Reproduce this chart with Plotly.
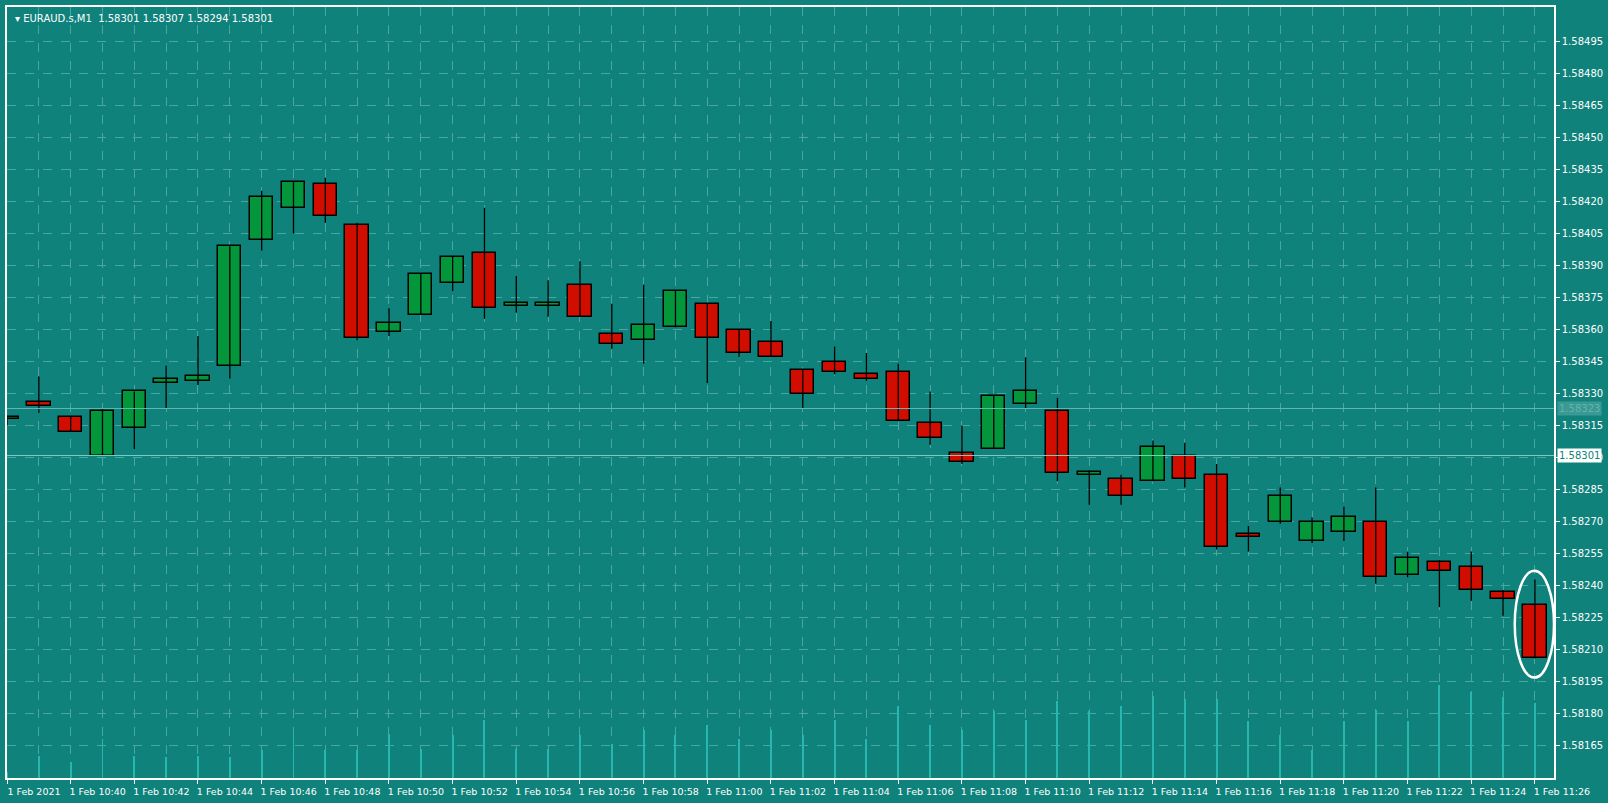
import pandas as pd
import plotly.graph_objects as go

# EURAUD.s M1 candles, 1 Feb 2021 10:38 .. 11:26
times = pd.date_range("2021-02-01 10:38", periods=49, freq="min")

opens = [1.58318, 1.58326, 1.58319, 1.58301, 1.58314, 1.58335, 1.58336, 1.58343, 1.58402, 1.58417,
         1.58428, 1.58409, 1.58359, 1.58367, 1.58382, 1.58396, 1.58371, 1.58371, 1.58381, 1.58358,
         1.58355, 1.58361, 1.58372, 1.58360, 1.58354, 1.58341, 1.58345, 1.58339, 1.58340, 1.58316,
         1.58302, 1.58304, 1.58325, 1.58322, 1.58292, 1.58290, 1.58289, 1.58301, 1.58292, 1.58264,
         1.58270, 1.58261, 1.58265, 1.58270, 1.58245, 1.58251, 1.58249, 1.58237, 1.58231]
highs = [1.58318, 1.58338, 1.58319, 1.58323, 1.58331, 1.58343, 1.58357, 1.58399, 1.58425, 1.58429,
         1.58431, 1.58410, 1.58370, 1.58386, 1.58394, 1.58417, 1.58385, 1.58383, 1.58392, 1.58372,
         1.58381, 1.58378, 1.58372, 1.58360, 1.58364, 1.58341, 1.58352, 1.58349, 1.58344, 1.58331,
         1.58315, 1.58329, 1.58347, 1.58328, 1.58294, 1.58292, 1.58308, 1.58307, 1.58297, 1.58268,
         1.58286, 1.58272, 1.58277, 1.58286, 1.58256, 1.58252, 1.58256, 1.58238, 1.58243]
lows = [1.58315, 1.58321, 1.58312, 1.58301, 1.58304, 1.58323, 1.58334, 1.58337, 1.58397, 1.58405,
        1.58410, 1.58355, 1.58357, 1.58367, 1.58378, 1.58365, 1.58368, 1.58366, 1.58366, 1.58351,
        1.58344, 1.58361, 1.58335, 1.58347, 1.58347, 1.58323, 1.58339, 1.58336, 1.58317, 1.58306,
        1.58297, 1.58304, 1.58323, 1.58289, 1.58278, 1.58278, 1.58289, 1.58286, 1.58257, 1.58256,
        1.58269, 1.58260, 1.58261, 1.58241, 1.58244, 1.58230, 1.58233, 1.58226, 1.58206]
closes = [1.58318, 1.58324, 1.58312, 1.58322, 1.58331, 1.58337, 1.58338, 1.58399, 1.58422, 1.58429,
          1.58413, 1.58356, 1.58363, 1.58386, 1.58394, 1.58370, 1.58372, 1.58372, 1.58366, 1.58353,
          1.58362, 1.58378, 1.58356, 1.58349, 1.58347, 1.58330, 1.58340, 1.58337, 1.58317, 1.58309,
          1.58298, 1.58329, 1.58331, 1.58293, 1.58293, 1.58282, 1.58305, 1.58290, 1.58258, 1.58263,
          1.58282, 1.58270, 1.58272, 1.58244, 1.58253, 1.58247, 1.58238, 1.58234, 1.58206]
volumes = [6, 23, 17, 40, 23, 22, 23, 22, 29, 45, 29, 29, 46, 30, 45, 60, 30, 30, 45, 35,
           50, 45, 55, 40, 50, 45, 60, 40, 75, 55, 50, 70, 60, 80, 70, 75, 85, 82, 82, 59,
           45, 29, 59, 71, 59, 97, 89, 84, 78]

y_ticks = [round(1.58165 + 0.00015 * i, 5) for i in range(23)]
bid_price = 1.58301
ask_price = 1.58323
title_text = "EURAUD.s,M1  1.58301 1.58307 1.58294 1.58301"

BG = "#0f827b"
GRID = "#4aa6a0"
GREEN = "#03963a"
RED = "#d10d00"

fig = go.Figure()

# tick volume lines at the bottom
fig.add_trace(go.Bar(x=times, y=volumes, width=1800, marker_color="#27b7ae",
                     marker_line_width=0, yaxis="y2", hoverinfo="skip"))

# wicks
wx, wy = [], []
for t, h, l in zip(times, highs, lows):
    wx += [t, t, None]
    wy += [h, l, None]
fig.add_trace(go.Scatter(x=wx, y=wy, mode="lines", line=dict(color="black", width=1.3),
                         hoverinfo="skip"))

# bodies
for up in (True, False):
    idx = [i for i in range(len(times)) if (closes[i] >= opens[i]) == up]
    fig.add_trace(go.Bar(
        x=[times[i] for i in idx],
        y=[max(abs(closes[i] - opens[i]), 0.000012) for i in idx],
        base=[min(opens[i], closes[i]) for i in idx],
        width=44000,
        marker=dict(color=GREEN if up else RED, line=dict(color="black", width=1.5)),
        hoverinfo="skip"))

# bid / ask lines
fig.add_hline(y=ask_price, line=dict(color="#5fb8b1", width=1))
fig.add_hline(y=bid_price, line=dict(color="#7cc9c2", width=1))

# hand-drawn ring around the last candle
last = times[-1]
fig.add_shape(type="circle", xref="x", yref="y",
              x0=last - pd.Timedelta(seconds=38), x1=last + pd.Timedelta(seconds=36),
              y0=lows[-1] - 0.00009, y1=highs[-1] + 0.00004,
              line=dict(color="white", width=2.5))

x_ticks = list(times[::2])
x_text = ["1 Feb 2021"] + [t.strftime("1 Feb %H:%M") for t in x_ticks[1:]]

fig.update_layout(
    width=1608, height=803,
    margin=dict(l=5, r=43, t=5, b=25),
    paper_bgcolor=BG, plot_bgcolor=BG,
    showlegend=False, barmode="overlay", bargap=0,
    font=dict(family="DejaVu Sans", size=10, color="white"),
    xaxis=dict(range=[times[0], times[-1] + pd.Timedelta(seconds=36)],
               tickvals=x_ticks, ticktext=x_text, ticks="outside", ticklen=4,
               tickcolor="white", ticklabelshift=27, ticklabelstandoff=0,
               showgrid=True, gridcolor=GRID, griddash="dash", gridwidth=1,
               minor=dict(dtick=60000, showgrid=True, gridcolor=GRID, griddash="dash"),
               showline=True, linecolor="white", linewidth=1.5, mirror=True,
               zeroline=False, tickfont=dict(size=9.5)),
    yaxis=dict(range=[1.58150, 1.58511], side="right", tickvals=y_ticks,
               tickformat=".5f", ticks="outside", ticklen=4, tickcolor="white",
               showgrid=True, gridcolor=GRID, griddash="dash",
               showline=True, linecolor="white", linewidth=1.5, mirror=True,
               zeroline=False, tickfont=dict(size=10)),
    yaxis2=dict(range=[0, 800], overlaying="y", visible=False),
)

fig.add_annotation(xref="paper", yref="paper", x=0.004, y=0.995, xanchor="left", yanchor="top",
                   text="▾ " + title_text, showarrow=False, font=dict(size=10, color="white"))
fig.add_annotation(xref="paper", yref="y", x=1.0, y=ask_price, xanchor="left", xshift=3,
                   text=f"{ask_price:.5f}", showarrow=False, bgcolor="#3a9a93",
                   font=dict(size=10, color="#62b3ad"))
fig.add_annotation(xref="paper", yref="y", x=1.0, y=bid_price, xanchor="left", xshift=3,
                   text=f"{bid_price:.5f}", showarrow=False, bgcolor="white",
                   font=dict(size=10, color="#0f827b"))

fig.write_html("out.html", config={"displayModeBar": False},
               post_script="document.body.style.margin='0';")
